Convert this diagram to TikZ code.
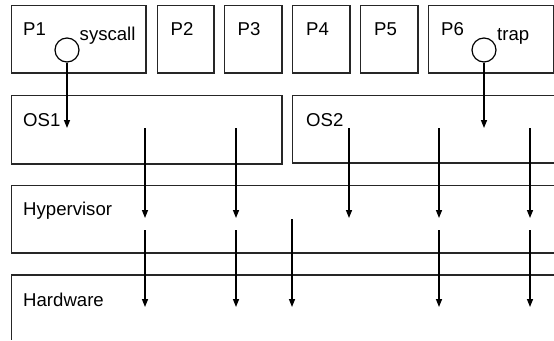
\documentclass[tikz,border=0pt]{standalone}
\usepackage{fontspec}
\setmainfont{Liberation Sans}
\usetikzlibrary{arrows.meta}
\begin{document}
\begin{tikzpicture}[x=1pt,y=-1pt,
  frame/.style={draw=black!85,line width=1pt,rectangle,inner sep=0pt,anchor=north west},
  heavy/.style={draw=black!85,line width=2pt},
  thin/.style={draw=black!85,line width=1pt},
  lbl/.style={anchor=base west,inner sep=0pt,font=\fontsize{18.6}{21}\selectfont},
  port/.style={circle,draw=black,line width=1.2pt,minimum size=24pt,inner sep=0pt},
  flow/.style={draw=black,line width=1.4pt,-{Triangle[length=8pt,width=6pt]}},
  rail/.style={draw=black,line width=1.4pt}]
\useasboundingbox (0,0) rectangle (554,340);

% process boxes
\node[frame,minimum width=134pt,minimum height=67pt] (p1) at (11,5) {};
\node[frame,minimum width=56pt,minimum height=67pt] (p2) at (157,5) {};
\node[frame,minimum width=57pt,minimum height=67pt] (p3) at (224,5) {};
\node[frame,minimum width=57pt,minimum height=67pt] (p4) at (292,5) {};
\node[frame,minimum width=57pt,minimum height=67pt] (p5) at (360,5) {};
\node[frame,minimum width=125pt,minimum height=67pt] (p6) at (428,5) {};
\foreach \b in {p1,p2,p3,p4,p5,p6}
  \draw[heavy] (\b.north east) -- (\b.south east) -- (\b.south west);

% OS1 box
\node[frame,minimum width=270pt,minimum height=68pt] (os1) at (11,95) {};
\draw[heavy] (os1.north east) -- (os1.south east) -- (os1.south west);
% OS2 box, open to the right
\draw[thin] (554,95) -- (292,95) -- (292,163);
\draw[heavy] (292,163) -- (554,163);

% hypervisor band
\draw[thin] (554,185) -- (11,185) -- (11,253);
\draw[heavy] (11,253) -- (554,253);
% hardware band
\draw[heavy] (554,275) -- (11,275);
\draw[thin] (11,275) -- (11,340);

% labels
\node[lbl] (tp1) at (23,35.5) {P1};
\node[lbl] (tsys) at (79.5,40.5) {syscall};
\node[lbl] (tp2) at (170.5,35.5) {P2};
\node[lbl] (tp3) at (237.5,35.5) {P3};
\node[lbl] (tp4) at (306,35.5) {P4};
\node[lbl] (tp5) at (374,35.5) {P5};
\node[lbl] (tp6) at (441,35.5) {P6};
\node[lbl] (ttrap) at (497,40.5) {trap};
\node[lbl] (tos1) at (23,126.5) {OS1};
\node[lbl] (tos2) at (306,126.5) {OS2};
\node[lbl] (thyp) at (23,215.5) {Hypervisor};
\node[lbl] (thw) at (23,306) {Hardware};

% entry points
\node[port] (sc) at (67,50) {};
\node[port] (tr) at (484,50) {};
\coordinate (scend) at (67,128);
\coordinate (trend) at (484,128);
\draw[flow] (sc.south) -- (scend);
\draw[flow] (tr.south) -- (trend);

% paths down through the layers
\foreach \n/\x in {a/145,b/236,d/349,e/439,f/530} {
  \coordinate (\n0) at (\x,128);
  \coordinate (\n1) at (\x,218);
  \draw[flow] (\n0) -- (\n1);
}
\foreach \n/\x in {a/145,b/236,e/439,f/530} {
  \coordinate (\n2) at (\x,230);
  \coordinate (\n3) at (\x,307);
  \draw[flow] (\n2) -- (\n3);
}
\coordinate (c2) at (292,219);
\coordinate (c3) at (292,307);
\draw[flow] (c2) -- (c3);
\end{tikzpicture}
\end{document}
